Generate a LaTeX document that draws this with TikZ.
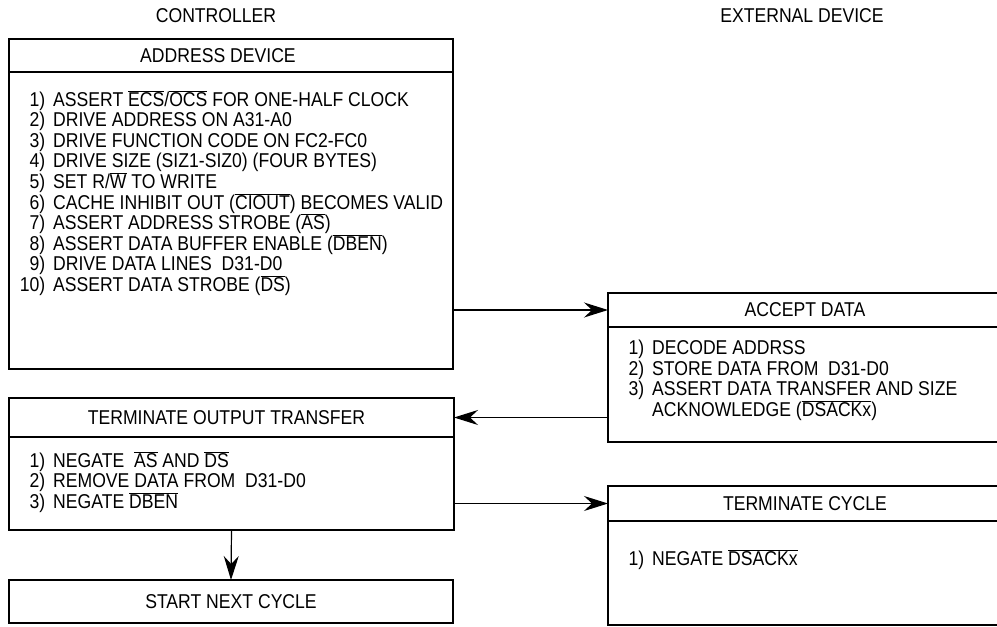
\documentclass[tikz,border=0pt]{standalone}
\usepackage{fontspec}
\setmainfont{Liberation Sans}[FakeStretch=0.88]
\usetikzlibrary{arrows.meta,calc}

\newcommand{\ovl}[1]{$\overline{\hbox{#1}}$}
\newcommand{\itm}[2]{\makebox[28pt][r]{#1)}\hspace{8pt}#2}

\begin{document}
\begin{tikzpicture}[
  x=1pt, y=-1pt,
  every node/.style={font=\fontsize{20}{20.6}\selectfont},
  frame/.style={draw, line width=2.6pt, inner sep=0pt, outer sep=0pt},
  divider/.style={line width=1.2pt},
  title/.style={inner sep=0pt},
  steps/.style={align=left, inner sep=0pt, anchor=north west, execute at begin node=\rule{0pt}{17pt}},
  arr/.style={line width=1.2pt, -{Stealth[length=24pt, width=15pt, inset=8pt]}}
]
  \useasboundingbox (0,0) rectangle (997,627);
  \clip (0,0) rectangle (997,627);

  % Column heads
  \node[title] (ctrl) at (216,16) {CONTROLLER};
  \node[title] (ext) at (802,16) {EXTERNAL DEVICE};

  % Address Device
  \node[frame, minimum width=444pt, minimum height=330pt] (addr) at (231,204) {};
  \draw[divider] ([yshift=-33pt]addr.north west) -- ([yshift=-33pt]addr.north east);
  \node[title] (addrT) at ([yshift=-16.5pt, xshift=-13pt]addr.north) {ADDRESS DEVICE};
  \node[steps] (addrL) at (17,90) {%
    \itm{1}{ASSERT \ovl{ECS}/\ovl{OCS} FOR ONE-HALF CLOCK}\\
    \itm{2}{DRIVE ADDRESS ON A31-A0}\\
    \itm{3}{DRIVE FUNCTION CODE ON FC2-FC0}\\
    \itm{4}{DRIVE SIZE (SIZ1-SIZ0) (FOUR BYTES)}\\
    \itm{5}{SET R/\ovl{W} TO WRITE}\\
    \itm{6}{CACHE INHIBIT OUT (\ovl{CIOUT}) BECOMES VALID}\\
    \itm{7}{ASSERT ADDRESS STROBE (\ovl{AS})}\\
    \itm{8}{ASSERT DATA BUFFER ENABLE (\ovl{DBEN})}\\
    \itm{9}{DRIVE DATA LINES\ \ D31-D0}\\
    \itm{10}{ASSERT DATA STROBE (\ovl{DS})}};

  % Accept Data
  \node[frame, minimum width=394pt, minimum height=149pt] (acc) at (805,367.5) {};
  \draw[divider] ([yshift=-34pt]acc.north west) -- ([yshift=-34pt]acc.north east);
  \node[title] (accT) at ([yshift=-17pt]acc.north) {ACCEPT DATA};
  \node[steps] (accL) at (616,340) {%
    \itm{1}{DECODE ADDRSS}\\
    \itm{2}{STORE DATA FROM\ \ D31-D0}\\
    \itm{3}{ASSERT DATA TRANSFER AND SIZE}\\
    \hspace*{36pt}ACKNOWLEDGE (\ovl{DSACKx})};

  % Terminate Output Transfer
  \node[frame, minimum width=445pt, minimum height=132pt] (tot) at (231.5,464) {};
  \draw[divider] ([yshift=-39pt]tot.north west) -- ([yshift=-39pt]tot.north east);
  \node[title] (totT) at ([yshift=-19.5pt, xshift=-5pt]tot.north) {TERMINATE OUTPUT TRANSFER};
  \node[steps] (totL) at (17,451) {%
    \itm{1}{NEGATE\ \ \ovl{AS} AND \ovl{DS}}\\
    \itm{2}{REMOVE DATA FROM\ \ D31-D0}\\
    \itm{3}{NEGATE \ovl{DBEN}}};

  % Terminate Cycle
  \node[frame, minimum width=394pt, minimum height=139pt] (tc) at (805,555.5) {};
  \draw[divider] ([yshift=-35pt]tc.north west) -- ([yshift=-35pt]tc.north east);
  \node[title] (tcT) at ([yshift=-17.5pt]tc.north) {TERMINATE CYCLE};
  \node[steps] (tcL) at (616,548) {%
    \itm{1}{NEGATE \ovl{DSACKx}}};

  % Start Next Cycle
  \node[frame, minimum width=444pt, minimum height=43pt] (snc) at (231,601.5) {};
  \node[title] (sncT) at (snc.center) {START NEXT CYCLE};

  % Handshake arrows
  \draw[arr] (addr.east |- accT) -- (acc.west |- accT);
  \draw[arr] (acc.west |- totT) -- (tot.east |- totT);
  \draw[arr] (tot.east |- tcT) -- (tc.west |- tcT);
  \draw[arr] (tot.south) -- (snc.north);
\end{tikzpicture}
\end{document}
